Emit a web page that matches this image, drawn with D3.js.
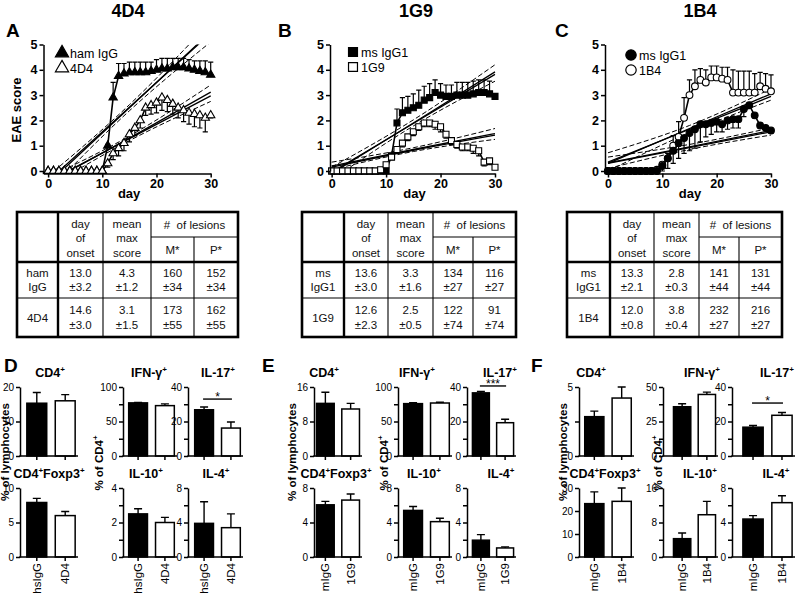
<!DOCTYPE html>
<html>
<head>
<meta charset="utf-8">
<script src="https://cdn.jsdelivr.net/npm/d3@7/dist/d3.min.js"></script>
<style>
  body { margin: 0; background: #fff; }
  svg { font-family: "Liberation Sans", Arial, sans-serif; display: block; }
</style>
</head>
<body>
<svg id="fig" width="800" height="593"></svg>
<script>
// ---------- EAE course (A-C) ----------
var days = [0,1,2,3,4,5,6,7,8,9,10,11,12,13,14,15,16,17,18,19,20,21,22,23,24,25,26,27,28,29,30];
var dayTicks = [0, 10, 20, 30];
var scoreTicks = [0, 1, 2, 3, 4, 5];

var hamIgG    = [0,0,0,0,0,0,0,0,0,0,0, 1.0,2.9,3.75,3.85,3.9,3.9,3.9,3.9,3.95,4.0,4.05,4.05,4.1,4.1,4.1,4.05,4.0,3.95,3.9,3.8];
var hamIgGSem = [0,0,0,0,0,0,0,0,0,0,0, 0.05,0.6,0.5,0.4,0.4,0.4,0.4,0.4,0.35,0.4,0.4,0.4,0.35,0.35,0.35,0.35,0.35,0.4,0.45,0.5];
var a4D4      = [0,0,0,0,0,0,0,0,0,0,0, 0.3,0.7,0.9,1.1,1.45,1.7,2.0,2.5,2.6,2.7,2.9,2.8,2.65,2.5,2.4,2.3,2.25,2.2,2.1,2.2];
var a4D4Sem   = [0,0,0,0,0,0,0,0,0,0,0, 0.15,0.25,0.3,0.3,0.3,0.3,0.3,0.3,0.35,0.4,0.5,0.45,0.4,0.4,0.45,0.45,0.5,0.5,0.55,0.1];

var msIgG1B    = [0,0,0,0,0,0,0,0,0,0,0, 0.6,1.9,2.3,2.4,2.5,2.6,2.8,2.9,3.1,3.0,2.95,2.95,3.0,3.0,3.0,3.05,3.1,3.1,3.05,2.95];
var msIgG1BSem = [0,0,0,0,0,0,0,0,0,0,0, 0.1,0.55,0.6,0.55,0.55,0.6,0.55,0.55,0.5,0.45,0.45,0.45,0.5,0.5,0.5,0.5,0.5,0.5,0.5,0.05];
var b1G9       = [0,0,0,0,0,0,0,0,0, 0.05,0.25,0.55,0.85,1.1,1.35,1.55,1.75,1.9,1.9,1.85,1.75,1.45,1.2,1.05,0.95,0.95,0.9,0.8,0.35,0.4,0.15];
var b1G9Sem    = [0,0,0,0,0,0,0,0,0, 0,0.1,0.1,0.15,0.15,0.15,0.15,0.15,0.15,0.15,0.2,0.2,0.15,0.15,0.15,0.15,0.15,0.2,0.2,0.15,0.15,0];

var msIgG1C    = [0,0,0,0,0,0,0,0,0,0, 0.2,0.5,0.8,1.1,1.3,1.5,1.65,1.85,1.85,1.9,1.95,1.85,2.0,2.05,2.05,2.45,2.6,2.2,1.8,1.7,1.6];
var msIgG1CSem = [0,0,0,0,0,0,0,0,0,0, 0.2,0.4,0.5,0.6,0.6,0.7,0.75,0.7,0.5,0.45,0.4,0.3,0.35,0.35,0.35,0.3,0.1,0.1,0.1,0.1,0.1];
var c1B4       = [0,0,0,0,0,0,0,0,0, 0.05,0.25,0.5,1.0,1.35,2.1,3.0,3.35,3.6,3.5,3.7,3.7,3.65,3.6,3.1,3.1,3.1,3.1,3.1,3.35,3.25,3.15];
var c1B4Sem    = [0,0,0,0,0,0,0,0,0, 0,0.1,0.2,0.4,0.6,0.8,0.6,0.65,0.45,0.5,0.45,0.45,0.45,0.5,0.9,0.85,0.85,0.85,0.75,0.55,0.6,0.65];

// regression lines: [day, fit, fit2, upper CI, lower CI]
var fitHam = [[0,-0.5,-0.4,-0.2,-0.8],[15,2.5,2.52,2.62,2.38],[30,5.5,5.45,5.9,5.1]];
var fit4D4 = [[0,-0.45,-0.42,-0.25,-0.65],[15,1.3,1.28,1.38,1.2],[30,3.12,2.97,3.4,2.75]];
var fitMsB = [[0,-0.1,-0.05,0.15,-0.35],[15,1.9,1.88,2.02,1.78],[30,3.92,3.82,4.2,3.55]];
var fit1G9 = [[0,0.2,0.15,0.35,0.05],[15,0.85,0.82,0.92,0.77],[30,1.48,1.42,1.68,1.25]];
var fit1B4 = [[0,0.35,0.3,0.72,0.0],[15,1.65,1.68,1.8,1.52],[30,2.95,3.05,3.25,2.8]];
var fitMsC = [[0,0.3,0.32,0.55,0.1],[15,0.92,0.95,1.05,0.85],[30,1.55,1.6,1.7,1.42]];

// ---------- tables ----------
var rowNamesA = [["ham", "IgG"], ["4D4"]];
var rowNamesB = [["ms", "IgG1"], ["1G9"]];
var rowNamesC = [["ms", "IgG1"], ["1B4"]];
var onsetA = [13.0, 14.6], onsetSdA = [3.2, 3.0], maxA = [4.3, 3.1], maxSdA = [1.2, 1.5];
var lesMA = [160, 173], lesMSdA = [34, 55], lesPA = [152, 162], lesPSdA = [34, 55];
var onsetB = [13.6, 12.6], onsetSdB = [3.0, 2.3], maxB = [3.3, 2.5], maxSdB = [1.6, 0.5];
var lesMB = [134, 122], lesMSdB = [27, 74], lesPB = [116, 91], lesPSdB = [27, 74];
var onsetC = [13.3, 12.0], onsetSdC = [2.1, 0.8], maxC = [2.8, 3.8], maxSdC = [0.3, 0.4];
var lesMC = [141, 232], lesMSdC = [44, 27], lesPC = [131, 216], lesPSdC = [44, 27];

// ---------- cytokine bars (D-F) ----------
var groupsD = ["hsIgG", "4D4"], groupsE = ["mIgG", "1G9"], groupsF = ["mIgG", "1B4"];
var cd4D = [15.3, 16.0],   cd4ErrD = [3.1, 1.8];
var ifnD = [77, 73],       ifnErrD = [0.5, 2.5];
var il17D = [26.8, 16.2],  il17ErrD = [1.6, 3.5];
var foxp3D = [7.9, 6.0],   foxp3ErrD = [0.6, 0.6];
var il10D = [2.5, 2.0],    il10ErrD = [0.3, 0.3];
var il4D = [3.9, 3.4],     il4ErrD = [2.5, 1.6];

var cd4E = [12.2, 10.9],   cd4ErrE = [2.6, 1.3];
var ifnE = [75.9, 76.8],   ifnErrE = [1.5, 1.0];
var il17E = [36.6, 19.3],  il17ErrE = [0.8, 2.0];
var foxp3E = [6.05, 6.6],  foxp3ErrE = [0.4, 0.7];
var il10E = [5.4, 4.1],    il10ErrE = [0.45, 0.4];
var il4E = [1.95, 1.05],   il4ErrE = [0.65, 0.12];

var cd4F = [2.85, 4.2],    cd4ErrF = [0.4, 0.8];
var ifnF = [35.7, 44.6],   ifnErrF = [2.2, 1.7];
var il17F = [16.7, 23.6],  il17ErrF = [1.0, 1.6];
var foxp3F = [23.2, 24.2], foxp3ErrF = [5.1, 5.8];
var il10F = [4.25, 9.8],   il10ErrF = [1.3, 3.1];
var il4F = [4.4, 6.3],     il4ErrF = [0.4, 0.8];

// y tick labels of each small panel (and unlabeled minor ticks)
var ticksD = [[0,10,20], [0,50,100], [0,20,40], [0,5,10], [0,2,4], [0,4,8]];
var minorD = [[], [25,75], [10,30], [], [1,3], [2,6]];
var ticksE = [[0,8,16], [0,50,100], [0,20,40], [0,4,8], [0,4,8], [0,4,8]];
var minorE = [[], [25,75], [10,30], [], [2,6], [2,6]];
var ticksF = [[0,5], [0,25,50], [0,20,40], [0,10,20,30], [0,8,16], [0,4,8]];
var minorF = [[2.5], [12.5,37.5], [10,30], [], [4,12], [2,6]];
var titles = ["CD4^+", "IFN-\u03b3^+", "IL-17^+", "CD4^+Foxp3^+", "IL-10^+", "IL-4^+"];
var sigMarks = ["*", "***", "*"];
var sigLevel = [33, 40.6, 30.7];

var svg = d3.select("#fig");
var defs = svg.append("defs");

// text with raised "+" signs
function rich(sel, str, supSize) {
  var parts = str.split("^");
  sel.append("tspan").text(parts[0]);
  for (var i = 1; i < parts.length; i++) {
    sel.append("tspan").attr("font-size", supSize).attr("dy", -5).text(parts[i].charAt(0));
    if (parts[i].length > 1) sel.append("tspan").attr("dy", 5).text(parts[i].slice(1));
  }
}

function label(x, y, txt, size, weight, anchor) {
  return svg.append("text").attr("x", x).attr("y", y).attr("font-size", size)
    .attr("font-weight", weight || "normal").attr("text-anchor", anchor || "middle").text(txt);
}

// ---------- course panels ----------
function course(p) {
  var x = d3.scaleLinear().domain([p.dmin, 30]).range([p.left, p.right]);
  var y = d3.scaleLinear().domain([0, 5]).range([171, 44.5]);
  var g = svg.append("g");

  defs.append("clipPath").attr("id", "clip" + p.key).append("rect")
    .attr("x", p.left).attr("y", y(5)).attr("width", p.right - p.left + 1).attr("height", y(0) - y(5));
  var fg = g.append("g").attr("clip-path", "url(#clip" + p.key + ")");
  p.fits.forEach(function(f) {
    [1, 2, 3, 4].forEach(function(k) {
      fg.append("path").datum(f)
        .attr("d", d3.line().curve(d3.curveNatural)
          .x(function(r) { return x(r[0]); }).y(function(r) { return y(r[k]); }))
        .attr("fill", "none").attr("stroke", "#000")
        .attr("stroke-width", k < 3 ? 1.3 : 1)
        .attr("stroke-dasharray", k < 3 ? null : "5,2.5");
    });
  });

  p.series.forEach(function(s) {
    var pts = days.map(function(d, i) { return { d: d, v: s.v[i], e: s.e[i] }; });
    g.append("path").datum(pts)
      .attr("d", d3.line().x(function(r) { return x(r.d); }).y(function(r) { return y(r.v); }))
      .attr("fill", "none").attr("stroke", "#000").attr("stroke-width", 1.6);
    g.append("g").selectAll("path").data(pts.filter(function(r) { return r.e > 0; }))
      .enter().append("path")
      .attr("d", function(r) {
        var cx = x(r.d), yt = y(r.v + s.dir * r.e);
        return "M" + cx + "," + y(r.v) + "V" + yt + "M" + (cx - 2.6) + "," + yt + "H" + (cx + 2.6);
      })
      .attr("stroke", "#000").attr("stroke-width", 1.2).attr("fill", "none");
    g.append("g").selectAll("path").data(pts).enter().append("path")
      .attr("transform", function(r) { return "translate(" + x(r.d) + "," + y(r.v) + ")"; })
      .attr("d", d3.symbol().type(s.sym).size(s.size))
      .attr("fill", s.fill).attr("stroke", "#000").attr("stroke-width", 1.1);
  });

  // legend (its own order)
  p.series.forEach(function(s) {
    var ly = p.legY + s.leg * 15;
    g.append("path").attr("transform", "translate(" + p.legX + "," + ly + ")")
      .attr("d", d3.symbol().type(s.sym).size(s.legSize))
      .attr("fill", s.fill).attr("stroke", "#000").attr("stroke-width", 1.2);
    g.append("text").attr("x", p.legX + 8).attr("y", ly + 4.5).attr("font-size", 12.5).text(s.name);
  });

  var ya = g.append("g").attr("transform", "translate(" + p.left + ",0)")
    .call(d3.axisLeft(y).tickValues(scoreTicks).tickSize(4).tickSizeOuter(0).tickPadding(2)
      .tickFormat(d3.format("d")));
  var xa = g.append("g").attr("transform", "translate(0,173.5)")
    .call(d3.axisBottom(x).tickValues(dayTicks).tickSize(4).tickSizeOuter(0).tickPadding(2)
      .tickFormat(d3.format("d")));
  g.append("line").attr("x1", p.left).attr("x2", p.left).attr("y1", 171).attr("y2", 174.2)
    .attr("stroke", "#000").attr("stroke-width", 1.5);
  [ya, xa].forEach(function(a) {
    a.attr("font-size", 12.5).attr("font-weight", "bold").attr("font-family", null);
    a.selectAll("path,line").attr("stroke-width", 1.5);
  });

  label((p.left + p.right) / 2 + 2, 198, "day", 13, "bold");
  label(p.titleX, 17, p.title, 18, "bold");
  label(p.letterX, 37, p.letter, 19, "bold", "start");
}

course({ key: "A", left: 43.5, right: 210.7, dmin: -0.85, title: "4D4", titleX: 128, letter: "A", letterX: 6,
  legX: 62, legY: 53, fits: [fitHam, fit4D4],
  series: [
    { name: "ham IgG", v: hamIgG, e: hamIgGSem, dir: 1, sym: d3.symbolTriangle, fill: "#000", size: 30, legSize: 75, leg: 0 },
    { name: "4D4", v: a4D4, e: a4D4Sem, dir: -1, sym: d3.symbolTriangle, fill: "#fff", size: 30, legSize: 75, leg: 1 }
  ] });
course({ key: "B", left: 330, right: 495, dmin: -0.3, title: "1G9", titleX: 416, letter: "B", letterX: 278,
  legX: 353, legY: 52, fits: [fitMsB, fit1G9],
  series: [
    { name: "ms IgG1", v: msIgG1B, e: msIgG1BSem, dir: 1, sym: d3.symbolSquare, fill: "#000", size: 36, legSize: 80, leg: 0 },
    { name: "1G9", v: b1G9, e: b1G9Sem, dir: -1, sym: d3.symbolSquare, fill: "#fff", size: 36, legSize: 80, leg: 1 }
  ] });
course({ key: "C", left: 605, right: 771, dmin: -0.55, title: "1B4", titleX: 700, letter: "C", letterX: 555,
  legX: 631, legY: 55, fits: [fit1B4, fitMsC],
  series: [
    { name: "1B4", v: c1B4, e: c1B4Sem, dir: 1, sym: d3.symbolCircle, fill: "#fff", size: 36, legSize: 85, leg: 1 },
    { name: "ms IgG1", v: msIgG1C, e: msIgG1CSem, dir: -1, sym: d3.symbolCircle, fill: "#000", size: 36, legSize: 85, leg: 0 }
  ] });

// ---------- tables ----------
var tableRowsY = [212, 237, 262, 298, 337];
var f1 = d3.format(".1f");
function table(cols, names, onset, onsetSd, mx, mxSd, lm, lmSd, lp, lpSd) {
  var g = svg.append("g").attr("font-size", 11.5).attr("fill", "#111");
  var mid = function(i) { return (cols[i] + cols[i + 1]) / 2; };
  function cell(cx, cy, lines) {
    var n = lines.length;
    lines.forEach(function(t, j) {
      g.append("text").attr("x", cx).attr("y", cy + (j - (n - 1) / 2) * 14.5 + 4)
        .attr("text-anchor", "middle").text(t);
    });
  }
  cell(mid(1), 238, ["day", "of", "onset"]);
  cell(mid(2), 238, ["mean", "max", "score"]);
  cell((cols[3] + cols[5]) / 2, 225, ["#\u00a0 of lesions"]);
  cell(mid(3), 250, ["M*"]);
  cell(mid(4), 250, ["P*"]);
  [0, 1].forEach(function(r) {
    var cy = (tableRowsY[2 + r] + tableRowsY[3 + r]) / 2;
    cell(mid(0), cy, names[r]);
    cell(mid(1), cy, [f1(onset[r]), "\u00b1" + f1(onsetSd[r])]);
    cell(mid(2), cy, [f1(mx[r]), "\u00b1" + f1(mxSd[r])]);
    cell(mid(3), cy, [lm[r], "\u00b1" + lmSd[r]]);
    cell(mid(4), cy, [lp[r], "\u00b1" + lpSd[r]]);
  });
  function ln(x1, y1, x2, y2, w) {
    g.append("line").attr("x1", x1).attr("y1", y1).attr("x2", x2).attr("y2", y2)
      .attr("stroke", "#000").attr("stroke-width", w);
  }
  var top = tableRowsY[0], bot = tableRowsY[4];
  ln(cols[2], top, cols[2], bot, 1.1);
  ln(cols[3], top, cols[3], bot, 1.1);
  ln(cols[4], tableRowsY[1], cols[4], bot, 1.1);
  ln(cols[3], tableRowsY[1], cols[5], tableRowsY[1], 1.1);
  ln(cols[0], tableRowsY[3], cols[5], tableRowsY[3], 1.1);
  ln(cols[0], tableRowsY[2], cols[5], tableRowsY[2], 2.4);
  ln(cols[1], top, cols[1], bot, 2.4);
  g.append("rect").attr("x", cols[0]).attr("y", top).attr("width", cols[5] - cols[0]).attr("height", bot - top)
    .attr("fill", "none").attr("stroke", "#000").attr("stroke-width", 2.6);
}
table([17, 58, 103, 151, 194, 238], rowNamesA, onsetA, onsetSdA, maxA, maxSdA, lesMA, lesMSdA, lesPA, lesPSdA);
table([302, 344, 388, 433, 473, 516], rowNamesB, onsetB, onsetSdB, maxB, maxSdB, lesMB, lesMSdB, lesPB, lesPSdB);
table([567, 610, 654, 699, 739, 782], rowNamesC, onsetC, onsetSdC, maxC, maxSdC, lesMC, lesMSdC, lesPC, lesPSdC);

// ---------- bar panels ----------
var rowTop = [387, 488], rowZero = [456, 557];
function bars(s) {
  var x = d3.scaleBand().domain(s.groups).range(s.range).paddingInner(0.3).paddingOuter(0.1);
  var y = d3.scaleLinear().domain([0, d3.max(s.ticks)]).range([rowZero[s.row], rowTop[s.row]]);
  var g = svg.append("g");
  var rows = s.groups.map(function(k, i) { return { k: k, v: s.vals[i], e: s.errs[i], i: i }; });
  var cx = function(r) { return x(r.k) + x.bandwidth() / 2; };

  g.selectAll(".eb").data(rows).enter().append("path")
    .attr("d", function(r) {
      var yt = y(r.v + r.e);
      return "M" + cx(r) + "," + y(r.v) + "V" + yt + "M" + (cx(r) - 4) + "," + yt + "H" + (cx(r) + 4);
    })
    .attr("stroke", "#000").attr("stroke-width", 1.4).attr("fill", "none");
  g.selectAll(".bar").data(rows).enter().append("rect")
    .attr("x", function(r) { return x(r.k); }).attr("width", x.bandwidth())
    .attr("y", function(r) { return y(r.v); })
    .attr("height", function(r) { return y(0) - y(r.v); })
    .attr("fill", function(r) { return r.i === 0 ? "#000" : "#fff"; })
    .attr("stroke", "#000").attr("stroke-width", 1.5);

  var all = s.ticks.concat(s.minor).sort(d3.ascending);
  var ya = g.append("g").attr("transform", "translate(" + s.ax + ",0)")
    .call(d3.axisLeft(y).tickValues(all).tickSize(4).tickSizeOuter(0).tickPadding(2)
      .tickFormat(function(d) { return s.ticks.indexOf(d) >= 0 ? d : ""; }));
  ya.attr("font-size", 10).attr("font-family", null);
  ya.selectAll("path,line").attr("stroke-width", 1.5);

  g.append("line").attr("x1", s.ax - 0.75).attr("x2", s.range[1]).attr("y1", y(0)).attr("y2", y(0))
    .attr("stroke", "#000").attr("stroke-width", 1.5);
  g.selectAll(".xt").data(rows).enter().append("line")
    .attr("x1", cx).attr("x2", cx).attr("y1", y(0)).attr("y2", y(0) + 4)
    .attr("stroke", "#000").attr("stroke-width", 1.5);
  if (s.row === 1) {
    g.selectAll(".xl").data(rows).enter().append("text")
      .attr("transform", function(r) { return "translate(" + (cx(r) + 4) + "," + (y(0) + 6) + ") rotate(-90)"; })
      .attr("text-anchor", "end").attr("font-size", 11.5).text(function(r) { return r.k; });
  }
  var t = g.append("text").attr("x", s.titleX).attr("y", rowTop[s.row] - 10)
    .attr("text-anchor", "middle").attr("font-size", 12.5).attr("font-weight", "bold");
  rich(t, s.title, 8);
  if (s.sig) {
    var ys = y(s.sigAt);
    g.append("line").attr("x1", cx(rows[0]) - 1).attr("x2", cx(rows[1]) + 1).attr("y1", ys).attr("y2", ys)
      .attr("stroke", "#000").attr("stroke-width", 1.4);
    g.append("text").attr("x", (cx(rows[0]) + cx(rows[1])) / 2).attr("y", ys + 2)
      .attr("text-anchor", "middle").attr("font-size", 12).text(s.sig);
  }
}

function barPanel(p) {
  var vals = p.vals, errs = p.errs;
  for (var i = 0; i < 6; i++) {
    var c = i % 3, row = Math.floor(i / 3);
    bars({ row: row, ax: p.ax[c], range: p.ranges[c], groups: p.groups, vals: vals[i], errs: errs[i],
      ticks: p.ticks[i], minor: p.minor[i], title: titles[i], titleX: p.titleX[i],
      sig: i === 2 ? p.sig : null, sigAt: p.sigAt });
  }
  var t1 = svg.append("text").attr("transform", "translate(" + p.lymX + ",452) rotate(-90)")
    .attr("text-anchor", "middle").attr("font-size", 11.5).attr("font-weight", "bold");
  rich(t1, "% of lymphocytes", 8);
  var t2 = svg.append("text").attr("transform", "translate(" + p.cd4X + ",463) rotate(-90)")
    .attr("text-anchor", "middle").attr("font-size", 11.5).attr("font-weight", "bold");
  rich(t2, "% of CD4^+", 8);
  label(p.letterX, 372, p.letter, 19, "bold", "start");
}

barPanel({ letter: "D", letterX: 4, groups: groupsD, ax: [20, 123, 188],
  ranges: [[24, 78], [126, 177], [192, 243]], titleX: [50, 149, 218, 49, 146, 216],
  vals: [cd4D, ifnD, il17D, foxp3D, il10D, il4D], errs: [cd4ErrD, ifnErrD, il17ErrD, foxp3ErrD, il10ErrD, il4ErrD],
  ticks: ticksD, minor: minorD, sig: sigMarks[0], sigAt: sigLevel[0], lymX: 9, cd4X: 103 });
barPanel({ letter: "E", letterX: 262, groups: groupsE, ax: [314, 398, 467],
  ranges: [[314, 362], [401, 452], [470, 516]], titleX: [324, 417, 500, 336, 424, 501],
  vals: [cd4E, ifnE, il17E, foxp3E, il10E, il4E], errs: [cd4ErrE, ifnErrE, il17ErrE, foxp3ErrE, il10ErrE, il4ErrE],
  ticks: ticksE, minor: minorE, sig: sigMarks[1], sigAt: sigLevel[1], lymX: 296, cd4X: 388 });
barPanel({ letter: "F", letterX: 531, groups: groupsF, ax: [579, 663, 732],
  ranges: [[582, 634], [671, 718], [740, 795]], titleX: [591, 702, 777, 605, 700, 776],
  vals: [cd4F, ifnF, il17F, foxp3F, il10F, il4F], errs: [cd4ErrF, ifnErrF, il17ErrF, foxp3ErrF, il10ErrF, il4ErrF],
  ticks: ticksF, minor: minorF, sig: sigMarks[2], sigAt: sigLevel[2], lymX: 567, cd4X: 662 });

// y label of the course panels
svg.append("text").attr("transform", "translate(21,110) rotate(-90)").attr("text-anchor", "middle")
  .attr("font-size", 13).attr("font-weight", "bold").text("EAE score");
</script>
</body>
</html>
